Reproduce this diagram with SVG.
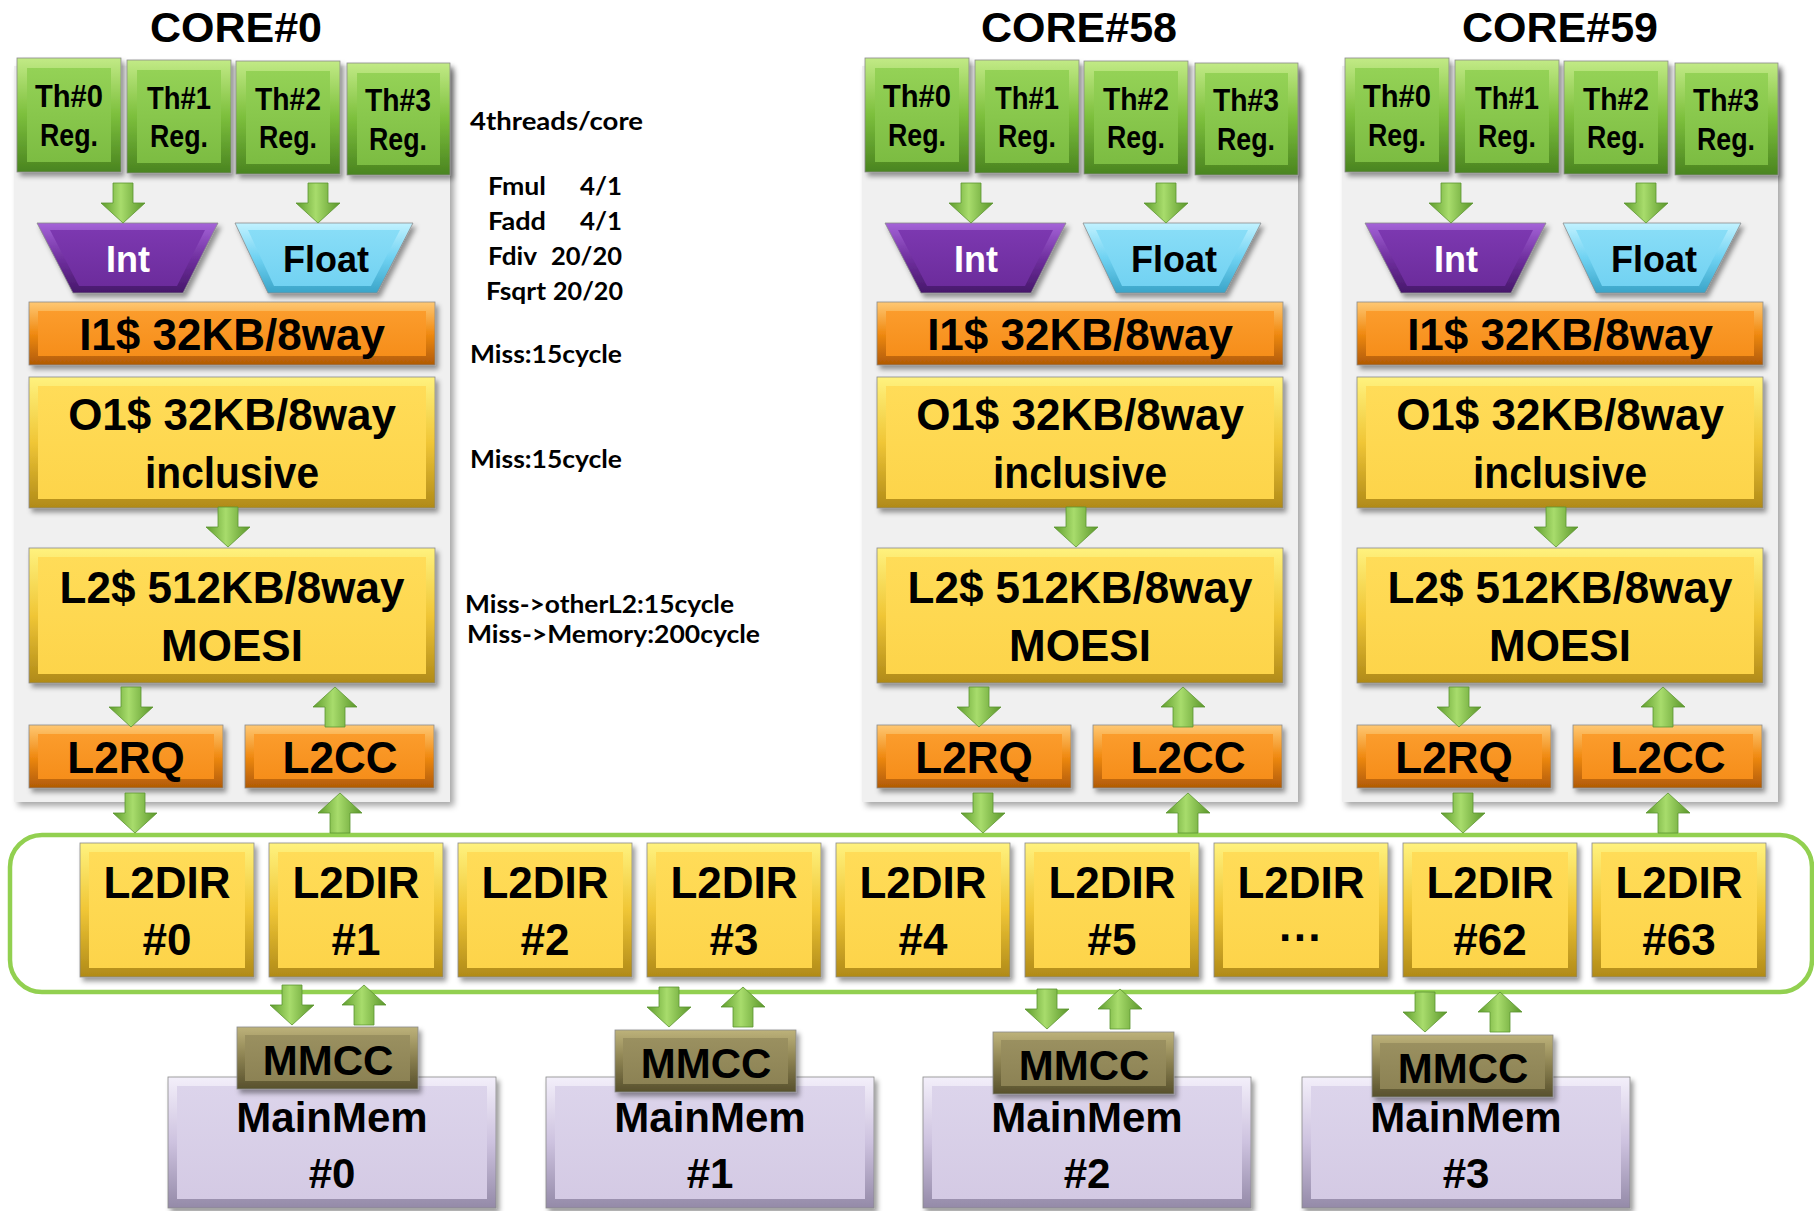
<svg xmlns="http://www.w3.org/2000/svg" width="1814" height="1211" viewBox="0 0 1814 1211">
<defs>
<filter id="sh" x="-10%" y="-10%" width="125%" height="130%">
<feDropShadow dx="3" dy="4" stdDeviation="2.5" flood-color="#000" flood-opacity="0.4"/>
</filter>
<filter id="psh" x="-5%" y="-5%" width="115%" height="110%">
<feDropShadow dx="4" dy="4" stdDeviation="3" flood-color="#000" flood-opacity="0.35"/>
</filter>
<linearGradient id="gGreenO" x1="0" y1="0" x2="0" y2="1"><stop offset="0" stop-color="#c2ea86"/><stop offset="0.5" stop-color="#7cbf3c"/><stop offset="1" stop-color="#4a8420"/></linearGradient>
<linearGradient id="gGreenI" x1="0" y1="0" x2="0" y2="1"><stop offset="0" stop-color="#94d256"/><stop offset="1" stop-color="#7cbc42"/></linearGradient>
<linearGradient id="gOrO" x1="0" y1="0" x2="0" y2="1"><stop offset="0" stop-color="#ffc873"/><stop offset="0.5" stop-color="#f08a12"/><stop offset="1" stop-color="#b05a05"/></linearGradient>
<linearGradient id="gOrI" x1="0" y1="0" x2="0" y2="1"><stop offset="0" stop-color="#fb9c2c"/><stop offset="1" stop-color="#f68e1a"/></linearGradient>
<linearGradient id="gYeO" x1="0" y1="0" x2="0" y2="1"><stop offset="0" stop-color="#fff27e"/><stop offset="0.5" stop-color="#f0c636"/><stop offset="1" stop-color="#b08a18"/></linearGradient>
<linearGradient id="gYeI" x1="0" y1="0" x2="0" y2="1"><stop offset="0" stop-color="#ffdc58"/><stop offset="1" stop-color="#fdd44a"/></linearGradient>
<linearGradient id="gOlO" x1="0" y1="0" x2="0" y2="1"><stop offset="0" stop-color="#bdb27a"/><stop offset="0.5" stop-color="#8a8050"/><stop offset="1" stop-color="#57502c"/></linearGradient>
<linearGradient id="gOlI" x1="0" y1="0" x2="0" y2="1"><stop offset="0" stop-color="#9a9060"/><stop offset="1" stop-color="#8c8254"/></linearGradient>
<linearGradient id="gLaO" x1="0" y1="0" x2="0" y2="1"><stop offset="0" stop-color="#f3effa"/><stop offset="0.5" stop-color="#cdc2df"/><stop offset="1" stop-color="#948aa8"/></linearGradient>
<linearGradient id="gLaI" x1="0" y1="0" x2="0" y2="1"><stop offset="0" stop-color="#dcd4eb"/><stop offset="1" stop-color="#d4cae4"/></linearGradient>
<linearGradient id="gPuO" x1="0" y1="0" x2="0" y2="1"><stop offset="0" stop-color="#a564d8"/><stop offset="0.5" stop-color="#7030a0"/><stop offset="1" stop-color="#46186a"/></linearGradient>
<linearGradient id="gPuI" x1="0" y1="0" x2="0" y2="1"><stop offset="0" stop-color="#7c38b0"/><stop offset="1" stop-color="#6c2c9c"/></linearGradient>
<linearGradient id="gBlO" x1="0" y1="0" x2="0" y2="1"><stop offset="0" stop-color="#c2f2ff"/><stop offset="0.5" stop-color="#6fd2f2"/><stop offset="1" stop-color="#3aa4c8"/></linearGradient>
<linearGradient id="gBlI" x1="0" y1="0" x2="0" y2="1"><stop offset="0" stop-color="#88ddf7"/><stop offset="1" stop-color="#72d2f2"/></linearGradient>
<linearGradient id="gArr" x1="0" y1="0" x2="1" y2="0"><stop offset="0" stop-color="#5e9c2c"/><stop offset="0.45" stop-color="#a8dc6c"/><stop offset="1" stop-color="#5a962a"/></linearGradient>
<path id="ad" d="M-10,0 H10 V20 H22 L0,40 L-22,20 H-10 Z" fill="url(#gArr)" stroke="#5c9430" stroke-width="0.8"/>
<path id="au" d="M-10,40 H10 V20 H22 L0,0 L-22,20 H-10 Z" fill="url(#gArr)" stroke="#5c9430" stroke-width="0.8"/>
<style>
.o{filter:url(#sh);stroke:#8a8a8a;stroke-width:0.8}
.green .o{fill:url(#gGreenO)} .green .i{fill:url(#gGreenI)}
.orange .o{fill:url(#gOrO)} .orange .i{fill:url(#gOrI)}
.yellow .o{fill:url(#gYeO)} .yellow .i{fill:url(#gYeI)}
.olive .o{fill:url(#gOlO)} .olive .i{fill:url(#gOlI)}
.lav .o{fill:url(#gLaO)} .lav .i{fill:url(#gLaI)}
.purple .o{fill:url(#gPuO)} .purple .i{fill:url(#gPuI)}
.blue .o{fill:url(#gBlO)} .blue .i{fill:url(#gBlI)}
.panel{fill:#f0f0f0;filter:url(#psh)}
text{font-family:"Liberation Sans",Arial,sans-serif;font-weight:bold;fill:#000;text-anchor:middle}
.title{font-size:43px}
.th{font-size:32px}
.big{font-size:44px}
.mid{font-size:36px}
.mm{font-size:42px}
.note{font-family:Lato,"Liberation Sans",sans-serif;font-size:24px;text-anchor:start}
.w{fill:#fff}
.bus{fill:none;stroke:#92d050;stroke-width:4.5}
</style>
</defs>
<rect width="1814" height="1211" fill="#fff"/>

<!-- CORE #0 -->
<g id="core0">
<rect class="panel" x="14" y="66" width="436" height="736"/>
<text class="title" x="236" y="42">CORE#0</text>
<g id="core0-th0" class="green"><rect class="o" x="17" y="58" width="104" height="114"/><rect class="i" x="27" y="68" width="84" height="94"/><text class="th" x="69" y="107" textLength="68" lengthAdjust="spacingAndGlyphs">Th#0</text><text class="th" x="69" y="146" textLength="58" lengthAdjust="spacingAndGlyphs">Reg.</text></g>
<g id="core0-th1" class="green"><rect class="o" x="127" y="60" width="104" height="113"/><rect class="i" x="137" y="70" width="84" height="93"/><text class="th" x="179" y="109" textLength="64" lengthAdjust="spacingAndGlyphs">Th#1</text><text class="th" x="179" y="147" textLength="58" lengthAdjust="spacingAndGlyphs">Reg.</text></g>
<g id="core0-th2" class="green"><rect class="o" x="236" y="61" width="104" height="113"/><rect class="i" x="246" y="71" width="84" height="93"/><text class="th" x="288" y="110" textLength="66" lengthAdjust="spacingAndGlyphs">Th#2</text><text class="th" x="288" y="148" textLength="58" lengthAdjust="spacingAndGlyphs">Reg.</text></g>
<g id="core0-th3" class="green"><rect class="o" x="347" y="63" width="103" height="112"/><rect class="i" x="357" y="73" width="83" height="92"/><text class="th" x="398" y="111" textLength="66" lengthAdjust="spacingAndGlyphs">Th#3</text><text class="th" x="398" y="150" textLength="58" lengthAdjust="spacingAndGlyphs">Reg.</text></g>
<g id="core0-int" class="purple"><polygon class="o" points="37,223 218,223 183,293 73,293"/><polygon class="i" points="50,230 205,230 177,286 79,286"/><text class="mid w" x="128" y="272">Int</text></g>
<g id="core0-float" class="blue"><polygon class="o" points="235,223 413,223 377,293 268,293"/><polygon class="i" points="248,230 400,230 371,286 274,286"/><text class="mid" x="326" y="272">Float</text></g>
<g id="core0-i1" class="orange"><rect class="o" x="29" y="302" width="406" height="63"/><rect class="i" x="38" y="311" width="388" height="45"/><text class="big" x="232" y="350">I1$ 32KB/8way</text></g>
<g id="core0-o1" class="yellow"><rect class="o" x="29" y="377" width="406" height="131"/><rect class="i" x="38" y="386" width="388" height="113"/><text class="big" x="232" y="430">O1$ 32KB/8way</text><text class="big" x="232" y="488" textLength="174" lengthAdjust="spacingAndGlyphs">inclusive</text></g>
<g id="core0-l2" class="yellow"><rect class="o" x="29" y="548" width="406" height="135"/><rect class="i" x="38" y="557" width="388" height="117"/><text class="big" x="232" y="603">L2$ 512KB/8way</text><text class="big" x="232" y="661">MOESI</text></g>
<g id="core0-l2rq" class="orange"><rect class="o" x="29" y="725" width="194" height="63"/><rect class="i" x="38" y="734" width="176" height="45"/><text class="big" x="126" y="773">L2RQ</text></g>
<g id="core0-l2cc" class="orange"><rect class="o" x="245" y="725" width="189" height="63"/><rect class="i" x="254" y="734" width="171" height="45"/><text class="big" x="340" y="773">L2CC</text></g>
</g>

<!-- notes -->
<g id="notes">
<text class="note" x="470" y="130" textLength="173" lengthAdjust="spacingAndGlyphs">4threads/core</text>
<text class="note" x="488" y="195" textLength="58" lengthAdjust="spacingAndGlyphs">Fmul</text>
<text class="note" x="580" y="195" textLength="42" lengthAdjust="spacingAndGlyphs">4/1</text>
<text class="note" x="488" y="230" textLength="58" lengthAdjust="spacingAndGlyphs">Fadd</text>
<text class="note" x="580" y="230" textLength="42" lengthAdjust="spacingAndGlyphs">4/1</text>
<text class="note" x="488" y="265" textLength="49" lengthAdjust="spacingAndGlyphs">Fdiv</text>
<text class="note" x="551" y="265" textLength="71" lengthAdjust="spacingAndGlyphs">20/20</text>
<text class="note" x="486" y="300" textLength="60" lengthAdjust="spacingAndGlyphs">Fsqrt</text>
<text class="note" x="553" y="300" textLength="70" lengthAdjust="spacingAndGlyphs">20/20</text>
<text class="note" x="470" y="363" textLength="152" lengthAdjust="spacingAndGlyphs">Miss:15cycle</text>
<text class="note" x="470" y="468" textLength="152" lengthAdjust="spacingAndGlyphs">Miss:15cycle</text>
<text class="note" x="465" y="613" textLength="269" lengthAdjust="spacingAndGlyphs">Miss-&gt;otherL2:15cycle</text>
<text class="note" x="467" y="643" textLength="293" lengthAdjust="spacingAndGlyphs">Miss-&gt;Memory:200cycle</text>
</g>

<!-- CORE #58 -->
<g id="core58">
<rect class="panel" x="862" y="66" width="436" height="736"/>
<text class="title" x="1079" y="42">CORE#58</text>
<g transform="translate(848,0)">
<g id="core58-th0" class="green"><rect class="o" x="17" y="58" width="104" height="114"/><rect class="i" x="27" y="68" width="84" height="94"/><text class="th" x="69" y="107" textLength="68" lengthAdjust="spacingAndGlyphs">Th#0</text><text class="th" x="69" y="146" textLength="58" lengthAdjust="spacingAndGlyphs">Reg.</text></g>
<g id="core58-th1" class="green"><rect class="o" x="127" y="60" width="104" height="113"/><rect class="i" x="137" y="70" width="84" height="93"/><text class="th" x="179" y="109" textLength="64" lengthAdjust="spacingAndGlyphs">Th#1</text><text class="th" x="179" y="147" textLength="58" lengthAdjust="spacingAndGlyphs">Reg.</text></g>
<g id="core58-th2" class="green"><rect class="o" x="236" y="61" width="104" height="113"/><rect class="i" x="246" y="71" width="84" height="93"/><text class="th" x="288" y="110" textLength="66" lengthAdjust="spacingAndGlyphs">Th#2</text><text class="th" x="288" y="148" textLength="58" lengthAdjust="spacingAndGlyphs">Reg.</text></g>
<g id="core58-th3" class="green"><rect class="o" x="347" y="63" width="103" height="112"/><rect class="i" x="357" y="73" width="83" height="92"/><text class="th" x="398" y="111" textLength="66" lengthAdjust="spacingAndGlyphs">Th#3</text><text class="th" x="398" y="150" textLength="58" lengthAdjust="spacingAndGlyphs">Reg.</text></g>
<g id="core58-int" class="purple"><polygon class="o" points="37,223 218,223 183,293 73,293"/><polygon class="i" points="50,230 205,230 177,286 79,286"/><text class="mid w" x="128" y="272">Int</text></g>
<g id="core58-float" class="blue"><polygon class="o" points="235,223 413,223 377,293 268,293"/><polygon class="i" points="248,230 400,230 371,286 274,286"/><text class="mid" x="326" y="272">Float</text></g>
<g id="core58-i1" class="orange"><rect class="o" x="29" y="302" width="406" height="63"/><rect class="i" x="38" y="311" width="388" height="45"/><text class="big" x="232" y="350">I1$ 32KB/8way</text></g>
<g id="core58-o1" class="yellow"><rect class="o" x="29" y="377" width="406" height="131"/><rect class="i" x="38" y="386" width="388" height="113"/><text class="big" x="232" y="430">O1$ 32KB/8way</text><text class="big" x="232" y="488" textLength="174" lengthAdjust="spacingAndGlyphs">inclusive</text></g>
<g id="core58-l2" class="yellow"><rect class="o" x="29" y="548" width="406" height="135"/><rect class="i" x="38" y="557" width="388" height="117"/><text class="big" x="232" y="603">L2$ 512KB/8way</text><text class="big" x="232" y="661">MOESI</text></g>
<g id="core58-l2rq" class="orange"><rect class="o" x="29" y="725" width="194" height="63"/><rect class="i" x="38" y="734" width="176" height="45"/><text class="big" x="126" y="773">L2RQ</text></g>
<g id="core58-l2cc" class="orange"><rect class="o" x="245" y="725" width="189" height="63"/><rect class="i" x="254" y="734" width="171" height="45"/><text class="big" x="340" y="773">L2CC</text></g>
</g>
</g>

<!-- CORE #59 -->
<g id="core59">
<rect class="panel" x="1342" y="66" width="436" height="736"/>
<text class="title" x="1560" y="42">CORE#59</text>
<g transform="translate(1328,0)">
<g id="core59-th0" class="green"><rect class="o" x="17" y="58" width="104" height="114"/><rect class="i" x="27" y="68" width="84" height="94"/><text class="th" x="69" y="107" textLength="68" lengthAdjust="spacingAndGlyphs">Th#0</text><text class="th" x="69" y="146" textLength="58" lengthAdjust="spacingAndGlyphs">Reg.</text></g>
<g id="core59-th1" class="green"><rect class="o" x="127" y="60" width="104" height="113"/><rect class="i" x="137" y="70" width="84" height="93"/><text class="th" x="179" y="109" textLength="64" lengthAdjust="spacingAndGlyphs">Th#1</text><text class="th" x="179" y="147" textLength="58" lengthAdjust="spacingAndGlyphs">Reg.</text></g>
<g id="core59-th2" class="green"><rect class="o" x="236" y="61" width="104" height="113"/><rect class="i" x="246" y="71" width="84" height="93"/><text class="th" x="288" y="110" textLength="66" lengthAdjust="spacingAndGlyphs">Th#2</text><text class="th" x="288" y="148" textLength="58" lengthAdjust="spacingAndGlyphs">Reg.</text></g>
<g id="core59-th3" class="green"><rect class="o" x="347" y="63" width="103" height="112"/><rect class="i" x="357" y="73" width="83" height="92"/><text class="th" x="398" y="111" textLength="66" lengthAdjust="spacingAndGlyphs">Th#3</text><text class="th" x="398" y="150" textLength="58" lengthAdjust="spacingAndGlyphs">Reg.</text></g>
<g id="core59-int" class="purple"><polygon class="o" points="37,223 218,223 183,293 73,293"/><polygon class="i" points="50,230 205,230 177,286 79,286"/><text class="mid w" x="128" y="272">Int</text></g>
<g id="core59-float" class="blue"><polygon class="o" points="235,223 413,223 377,293 268,293"/><polygon class="i" points="248,230 400,230 371,286 274,286"/><text class="mid" x="326" y="272">Float</text></g>
<g id="core59-i1" class="orange"><rect class="o" x="29" y="302" width="406" height="63"/><rect class="i" x="38" y="311" width="388" height="45"/><text class="big" x="232" y="350">I1$ 32KB/8way</text></g>
<g id="core59-o1" class="yellow"><rect class="o" x="29" y="377" width="406" height="131"/><rect class="i" x="38" y="386" width="388" height="113"/><text class="big" x="232" y="430">O1$ 32KB/8way</text><text class="big" x="232" y="488" textLength="174" lengthAdjust="spacingAndGlyphs">inclusive</text></g>
<g id="core59-l2" class="yellow"><rect class="o" x="29" y="548" width="406" height="135"/><rect class="i" x="38" y="557" width="388" height="117"/><text class="big" x="232" y="603">L2$ 512KB/8way</text><text class="big" x="232" y="661">MOESI</text></g>
<g id="core59-l2rq" class="orange"><rect class="o" x="29" y="725" width="194" height="63"/><rect class="i" x="38" y="734" width="176" height="45"/><text class="big" x="126" y="773">L2RQ</text></g>
<g id="core59-l2cc" class="orange"><rect class="o" x="245" y="725" width="189" height="63"/><rect class="i" x="254" y="734" width="171" height="45"/><text class="big" x="340" y="773">L2CC</text></g>
</g>
</g>

<!-- L2DIR ring -->
<rect id="l2dir-bus" class="bus" x="10" y="835" width="1802" height="157" rx="32"/>
<g id="l2dir0" class="yellow"><rect class="o" x="80" y="843" width="174" height="134"/><rect class="i" x="89" y="852" width="156" height="116"/><text class="big" x="167" y="898">L2DIR</text><text class="big" x="167" y="955">#0</text></g>
<g id="l2dir1" class="yellow"><rect class="o" x="269" y="843" width="174" height="134"/><rect class="i" x="278" y="852" width="156" height="116"/><text class="big" x="356" y="898">L2DIR</text><text class="big" x="356" y="955">#1</text></g>
<g id="l2dir2" class="yellow"><rect class="o" x="458" y="843" width="174" height="134"/><rect class="i" x="467" y="852" width="156" height="116"/><text class="big" x="545" y="898">L2DIR</text><text class="big" x="545" y="955">#2</text></g>
<g id="l2dir3" class="yellow"><rect class="o" x="647" y="843" width="174" height="134"/><rect class="i" x="656" y="852" width="156" height="116"/><text class="big" x="734" y="898">L2DIR</text><text class="big" x="734" y="955">#3</text></g>
<g id="l2dir4" class="yellow"><rect class="o" x="836" y="843" width="174" height="134"/><rect class="i" x="845" y="852" width="156" height="116"/><text class="big" x="923" y="898">L2DIR</text><text class="big" x="923" y="955">#4</text></g>
<g id="l2dir5" class="yellow"><rect class="o" x="1025" y="843" width="174" height="134"/><rect class="i" x="1034" y="852" width="156" height="116"/><text class="big" x="1112" y="898">L2DIR</text><text class="big" x="1112" y="955">#5</text></g>
<g id="l2dir-etc" class="yellow"><rect class="o" x="1214" y="843" width="174" height="134"/><rect class="i" x="1223" y="852" width="156" height="116"/><text class="big" x="1301" y="898">L2DIR</text><text class="big" x="1301" y="953">···</text></g>
<g id="l2dir62" class="yellow"><rect class="o" x="1403" y="843" width="174" height="134"/><rect class="i" x="1412" y="852" width="156" height="116"/><text class="big" x="1490" y="898">L2DIR</text><text class="big" x="1490" y="955">#62</text></g>
<g id="l2dir63" class="yellow"><rect class="o" x="1592" y="843" width="174" height="134"/><rect class="i" x="1601" y="852" width="156" height="116"/><text class="big" x="1679" y="898">L2DIR</text><text class="big" x="1679" y="955">#63</text></g>

<!-- Main memories -->
<g id="mainmem0" class="lav"><rect class="o" x="168" y="1077" width="328" height="131"/><rect class="i" x="177" y="1086" width="310" height="113"/><text class="mm" x="332" y="1132">MainMem</text><text class="mm" x="332" y="1188">#0</text></g>
<g id="mainmem1" class="lav"><rect class="o" x="546" y="1077" width="328" height="131"/><rect class="i" x="555" y="1086" width="310" height="113"/><text class="mm" x="710" y="1132">MainMem</text><text class="mm" x="710" y="1188">#1</text></g>
<g id="mainmem2" class="lav"><rect class="o" x="923" y="1077" width="328" height="131"/><rect class="i" x="932" y="1086" width="310" height="113"/><text class="mm" x="1087" y="1132">MainMem</text><text class="mm" x="1087" y="1188">#2</text></g>
<g id="mainmem3" class="lav"><rect class="o" x="1302" y="1077" width="328" height="131"/><rect class="i" x="1311" y="1086" width="310" height="113"/><text class="mm" x="1466" y="1132">MainMem</text><text class="mm" x="1466" y="1188">#3</text></g>

<g id="mmcc0" class="olive"><rect class="o" x="237" y="1027" width="181" height="62"/><rect class="i" x="245" y="1035" width="165" height="46"/><text class="mm" x="328" y="1075">MMCC</text></g>
<g id="mmcc1" class="olive"><rect class="o" x="615" y="1030" width="181" height="62"/><rect class="i" x="623" y="1038" width="165" height="46"/><text class="mm" x="706" y="1078">MMCC</text></g>
<g id="mmcc2" class="olive"><rect class="o" x="993" y="1032" width="181" height="62"/><rect class="i" x="1001" y="1040" width="165" height="46"/><text class="mm" x="1084" y="1080">MMCC</text></g>
<g id="mmcc3" class="olive"><rect class="o" x="1372" y="1035" width="181" height="62"/><rect class="i" x="1380" y="1043" width="165" height="46"/><text class="mm" x="1463" y="1083">MMCC</text></g>

<!-- connectors -->
<g id="connectors">
<use href="#ad" x="123" y="183"/><use href="#ad" x="318" y="183"/>
<use href="#ad" x="228" y="507"/>
<use href="#ad" x="131" y="687"/><use href="#au" x="335" y="687"/>
<use href="#ad" x="135" y="793"/><use href="#au" x="340" y="793"/>

<use href="#ad" x="971" y="183"/><use href="#ad" x="1166" y="183"/>
<use href="#ad" x="1076" y="507"/>
<use href="#ad" x="979" y="687"/><use href="#au" x="1183" y="687"/>
<use href="#ad" x="983" y="793"/><use href="#au" x="1188" y="793"/>

<use href="#ad" x="1451" y="183"/><use href="#ad" x="1646" y="183"/>
<use href="#ad" x="1556" y="507"/>
<use href="#ad" x="1459" y="687"/><use href="#au" x="1663" y="687"/>
<use href="#ad" x="1463" y="793"/><use href="#au" x="1668" y="793"/>

<use href="#ad" x="292" y="985"/><use href="#au" x="364" y="985"/>
<use href="#ad" x="669" y="987"/><use href="#au" x="743" y="987"/>
<use href="#ad" x="1047" y="989"/><use href="#au" x="1120" y="989"/>
<use href="#ad" x="1425" y="992"/><use href="#au" x="1500" y="992"/>
</g>
</svg>
